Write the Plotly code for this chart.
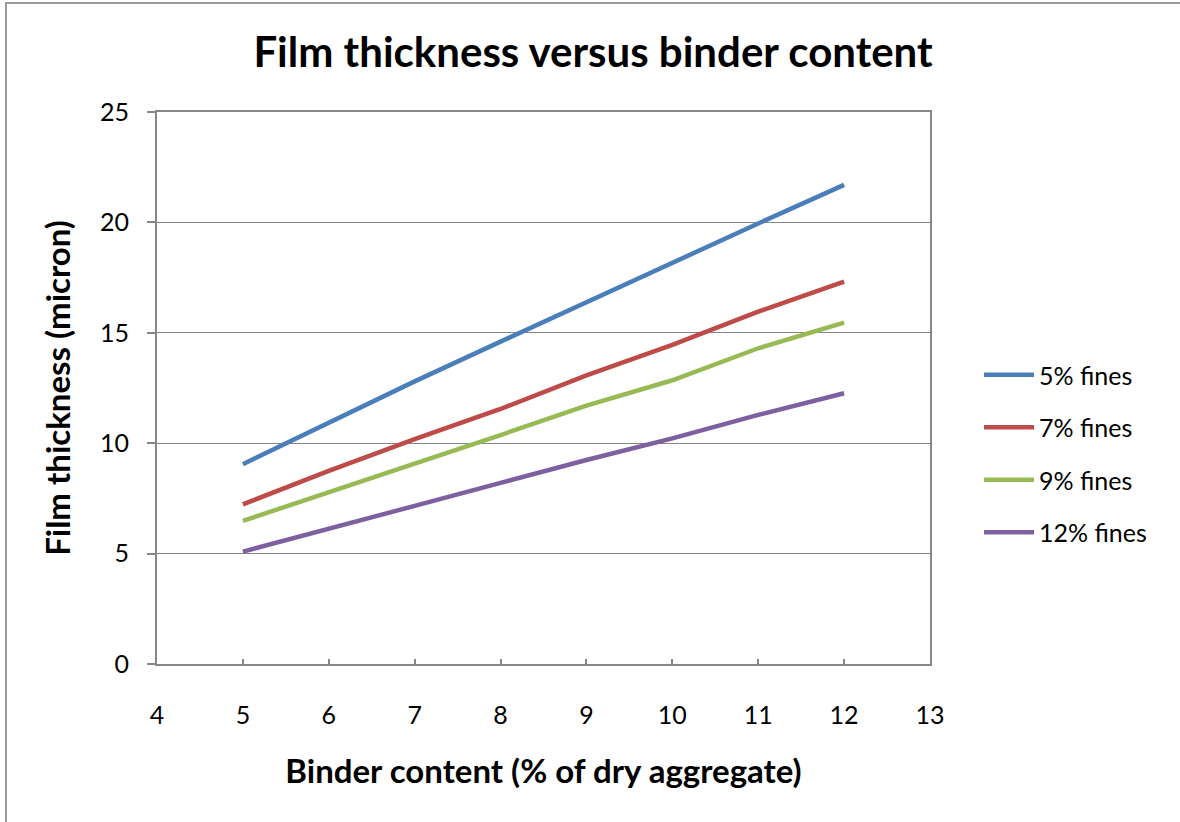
import plotly.graph_objects as go

binder = [5, 6, 7, 8, 9, 10, 11, 12]
fines_5 = [9.05, 10.95, 12.8, 14.6, 16.4, 18.15, 19.95, 21.7]
fines_7 = [7.23, 8.75, 10.18, 11.55, 13.07, 14.45, 15.96, 17.32]
fines_9 = [6.48, 7.8, 9.08, 10.37, 11.7, 12.85, 14.3, 15.46]
fines_12 = [5.09, 6.1, 7.16, 8.2, 9.24, 10.22, 11.28, 12.26]

series_names = ["5% fines", "7% fines", "9% fines", "12% fines"]
series_vals = [fines_5, fines_7, fines_9, fines_12]
colors = ["#4A7EBB", "#BE4B48", "#98B954", "#7D60A0"]

FONT = "Lato"

fig = go.Figure()
for i, (name, vals, c) in enumerate(zip(series_names, series_vals, colors)):
    fig.add_trace(go.Scatter(
        x=binder, y=vals, mode="lines", name=name, legendgroup=name,
        line=dict(color=c, width=4.5),
    ))

W, H = 1180, 822
L, R, T, B = 157, 250, 112, 158
pw, ph = W - L - R, H - T - B

def px(xp):
    return (xp - L) / pw

def py(yp):
    return (H - B - yp) / ph

fig.update_layout(
    width=W, height=H,
    margin=dict(l=L, r=R, t=T, b=B),
    paper_bgcolor="white", plot_bgcolor="white",
    font=dict(family=FONT, color="black", size=25),
    showlegend=True,
    legend=dict(
        x=px(979), y=py(352), xanchor="left", yanchor="top",
        font=dict(family=FONT, size=25, color="black"),
        tracegroupgap=17, itemwidth=50, bgcolor="rgba(0,0,0,0)",
    ),
    xaxis=dict(
        range=[4, 13], dtick=1, tick0=4,
        showgrid=False, zeroline=False,
        showline=True, linecolor="#868686", linewidth=2, mirror=True,
        ticks="inside", ticklen=5, tickcolor="#868686", tickwidth=1.5,
        tickfont=dict(family=FONT, size=25, color="black"),
        ticklabelstandoff=28,
        title=dict(text="<b>Binder content (% of dry aggregate)</b>",
                   font=dict(family=FONT, size=33, color="black"), standoff=32),
    ),
    yaxis=dict(
        range=[0, 25], dtick=5, tick0=0,
        showgrid=True, gridcolor="#868686", gridwidth=1,
        zeroline=False,
        showline=True, linecolor="#868686", linewidth=2, mirror=True,
        ticks="outside", ticklen=8, tickcolor="#868686", tickwidth=1.5,
        tickfont=dict(family=FONT, size=25, color="black"),
        ticklabelstandoff=13,
        title=dict(text="<b>Film thickness (micron)</b>",
                   font=dict(family=FONT, size=33, color="black"), standoff=19),
    ),
    title=dict(
        text="<b>Film thickness versus binder content</b>",
        x=593 / W, xanchor="center", y=1 - 52 / H, yanchor="middle",
        font=dict(family=FONT, size=42, color="black"),
    ),
    shapes=[dict(
        type="rect", xref="paper", yref="paper",
        x0=px(6), x1=px(1200), y0=py(840), y1=py(3),
        line=dict(color="#9a9a9a", width=2), fillcolor="rgba(0,0,0,0)",
        layer="below",
    )],
)

fig.write_html(
    "out.html",
    config={"displayModeBar": False},
    post_script="document.body.style.margin='0';document.body.style.overflow='hidden';",
)
